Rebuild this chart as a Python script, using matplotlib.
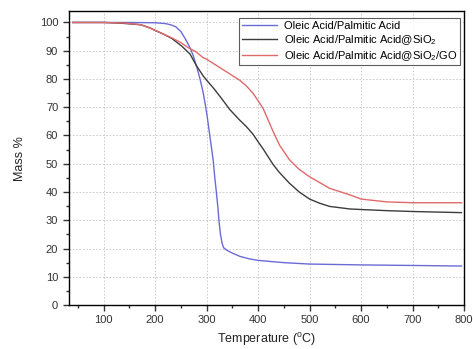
import matplotlib
matplotlib.use("Agg")
import matplotlib.pyplot as plt
from matplotlib.ticker import MultipleLocator

plt.rcParams['font.family'] = ['Liberation Sans', 'DejaVu Sans']
plt.rcParams['mathtext.fontset'] = 'custom'
plt.rcParams['mathtext.rm'] = 'Liberation Sans'

# Oleic Acid/Palmitic Acid
t_pa = [40, 100, 150, 200, 220, 230, 240, 250, 260, 268, 274, 281, 287, 293,
        297, 301, 307, 313, 316, 319, 322, 324, 327, 330, 333, 340, 351, 365, 384,
        400, 450, 500, 600, 700, 795]
m_pa = [100, 100, 100, 99.9, 99.6, 99.2, 98.5, 96.8, 93.8, 91.0, 88.3, 84.2, 80.2, 75.5,
        71.5, 67.0, 59.0, 51.0, 45.0, 40.0, 34.5, 30.0, 25.0, 22.0, 20.3, 19.3, 18.3, 17.2, 16.3,
        15.8, 15.0, 14.5, 14.2, 14.0, 13.8]

# Oleic Acid/Palmitic Acid@SiO2
t_si = [40, 100, 130, 172, 190, 200, 215, 232, 252, 268, 280, 293, 300, 316, 332,
        345, 364, 377, 390, 400, 410, 429, 441, 461, 480, 500, 520, 539, 578, 600, 650, 700, 795]
m_si = [100, 100, 99.8, 99.2, 98.1, 97.2, 96.0, 94.4, 91.6, 88.8, 84.8, 81.2, 79.6, 76.2, 72.4,
        69.2, 65.5, 63.2, 60.5, 57.8, 55.2, 49.8, 47.0, 43.1, 40.0, 37.5, 36.0, 34.9, 34.0, 33.8, 33.4, 33.1, 32.7]

# Oleic Acid/Palmitic Acid@SiO2/GO
t_go = [40, 100, 140, 172, 190, 200, 232, 249, 265, 278, 293, 300, 319, 332, 345, 364,
        377, 390, 400, 410, 416, 429, 442, 461, 480, 500, 539, 578, 600, 650, 700, 795]
m_go = [100, 100, 99.8, 99.2, 98.0, 97.2, 94.6, 93.0, 91.0, 89.8, 87.6, 87.0, 84.8, 83.3, 81.8, 79.6,
        77.6, 75.0, 72.3, 69.5, 67.0, 61.5, 56.5, 51.4, 48.0, 45.4, 41.3, 39.0, 37.5, 36.5, 36.2, 36.2]

fig = plt.figure(figsize=(4.73, 3.49), dpi=100)
ax = fig.add_axes([0.145, 0.126, 0.836, 0.842])

ax.plot(t_pa, m_pa, color='#6b6bd6', lw=1.0, label='Oleic Acid/Palmitic Acid')
ax.plot(t_si, m_si, color='#3c3c3c', lw=1.0, label='Oleic Acid/Palmitic Acid@SiO$_2$')
ax.plot(t_go, m_go, color='#e06a6a', lw=1.0, label='Oleic Acid/Palmitic Acid@SiO$_2$/GO')

ax.set_xlim(32, 800)
ax.set_ylim(0, 104)
ax.xaxis.set_major_locator(MultipleLocator(100))
ax.xaxis.set_minor_locator(MultipleLocator(50))
ax.yaxis.set_major_locator(MultipleLocator(10))
ax.yaxis.set_minor_locator(MultipleLocator(5))
ax.tick_params(which='both', direction='out', top=False, right=False, labelsize=8, colors='#333333')
ax.tick_params(which='major', length=4, width=1)
ax.tick_params(which='minor', length=2.5, width=1)
ax.grid(True, which='major', color='#c4c4c4', ls=(0, (2, 2)), lw=0.6)
for s in ax.spines.values():
    s.set_linewidth(1.0)

ax.set_xlabel('Temperature ($^{\\mathrm{o}}$C)', fontsize=9, color='#222222')
ax.set_ylabel('Mass %', fontsize=9, color='#222222', labelpad=10)

leg = ax.legend(loc='upper right', bbox_to_anchor=(0.995, 0.985), fontsize=8, frameon=True,
                fancybox=False, edgecolor='#333333', handlelength=3.2, labelspacing=0.2,
                borderpad=0.25, handletextpad=0.6, borderaxespad=0.2)
leg.get_frame().set_linewidth(0.8)

plt.savefig('out.png', dpi=100)
